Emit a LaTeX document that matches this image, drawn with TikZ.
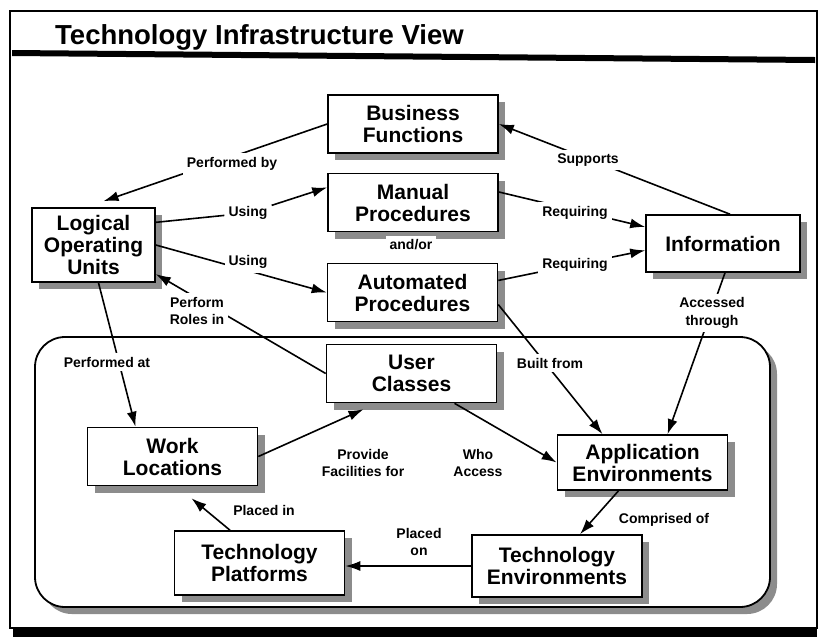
\documentclass[tikz,border=0pt]{standalone}
\usepackage{fontspec}
\setmainfont{Liberation Sans}
\usetikzlibrary{arrows.meta,shadows}

\tikzset{
	box/.style={draw, line width=1.6pt, fill=white, align=center, inner sep=0pt,
		minimum width=170pt, minimum height=58pt,
		font=\fontsize{21}{22}\selectfont\bfseries,
		drop shadow={shadow xshift=7pt, shadow yshift=-7pt, opacity=1, fill=black!45}},
	lbl/.style={align=center, inner sep=4pt, fill=white, font=\fontsize{14}{17.5}\selectfont\bfseries},
	link/.style={line width=1.6pt},
	arr/.style={line width=1.6pt, -{Latex[length=15pt,width=10pt]}}
}

\begin{document}
\begin{tikzpicture}[x=1pt,y=-1pt]
		\useasboundingbox (0,0) rectangle (819,641);
		\draw[line width=1.2pt] (10,11) rectangle (817,628);
		\fill (13,628) rectangle (817,637);
		\fill (12,50) -- (815,57) -- (815,63) -- (12,56) -- cycle;
		\node[anchor=base west, inner sep=0pt, font=\fontsize{27.5}{30}\selectfont\bfseries] (title) at (55,44) {Technology Infrastructure View};
		\draw[line width=1.8pt, fill=white, rounded corners=30pt,
			drop shadow={shadow xshift=7pt, shadow yshift=-7pt, opacity=1, fill=black!45}]
			(35,337) rectangle (770,607);
		\node[box] (bf) at (413,124) {Business\\Functions};
		\node[box] (mp) at (413,202.5) {Manual\\Procedures};
		\node[box] (ap) at (412.5,292.5) {Automated\\Procedures};
		\node[box, minimum width=123pt, minimum height=74pt] (lou) at (93.5,245) {Logical\\Operating\\Units};
		\node[box, minimum width=154pt, minimum height=57pt] (info) at (723,243.5) {Information};
		\node[box] (uc) at (411.5,373.5) {User\\Classes};
		\node[box] (wl) at (172.5,456.5) {Work\\Locations};
		\node[box, minimum height=64pt] (tp) at (259.5,563) {Technology\\Platforms};
		\node[box, minimum height=55pt] (ae) at (642.5,462.5) {Application\\Environments};
		\node[box, minimum height=62pt] (te) at (557,566) {Technology\\Environments};
		\draw[arr] (bf.west) -- ([xshift=10pt,yshift=6pt]lou.north);
		\draw[arr] (lou.east) -- (ap.west);
		\draw[arr] (mp.7) -- (info.168);
		\draw[arr] (ap.8) -- (info.185);
		\draw[arr] ([xshift=7pt]info.north) -- (bf.east);
		\draw[arr] ([xshift=5pt]lou.south) -- ([xshift=-37pt]wl.north);
		\draw[arr] (uc.west) -- (lou.-25);
		\draw[arr] (ap.-8) -- ([xshift=-40pt]ae.north);
		\draw[arr] ([xshift=2pt]info.south) -- ([xshift=25pt]ae.north);
		\draw[arr] (wl.east) -- ([xshift=-48pt,yshift=-6pt]uc.south);
		\draw[arr] ([xshift=43pt]uc.south) -- (ae.west);
		\draw[arr] ([xshift=-24pt]ae.south) -- ([xshift=23pt]te.north);
		\draw[arr] (te.west) -- (te.west -| tp.east);
		\draw[arr] ([xshift=-29.5pt]tp.north) -- ([xshift=19pt,yshift=-12pt]wl.south);
		\node[lbl] (pby) at (232,164) {Performed by};
		\node[lbl] (use1) at (248,213) {Using};
		\node[lbl] (use2) at (248,262) {Using};
		\node[lbl] (req1) at (575,213) {Requiring};
		\node[lbl] (req2) at (575,265) {Requiring};
		\node[lbl] (sup) at (588,160) {Supports};
		\node[lbl] (andor) at (411,245) {and/or};
		\node[lbl] (pat) at (107,362) {Performed at};
		\node[lbl] (roles) at (197,311) {Perform\\Roles in};
		\node[lbl] (built) at (550,363) {Built from};
		\node[lbl] (acc) at (712,313) {Accessed\\through};
		\node[lbl] (fac) at (363,463) {Provide\\Facilities for};
		\node[lbl] (who) at (478,463) {Who\\Access};
		\node[lbl] (comp) at (664,520) {Comprised of};
		\node[lbl] (pon) at (419,542) {Placed\\on};
		\node[lbl] (pin) at (264,510) {Placed in};
		\draw[link] (lou.20) -- (use1);
		\draw[arr] (use1) -- (mp.170);
	\end{tikzpicture}
\end{document}
